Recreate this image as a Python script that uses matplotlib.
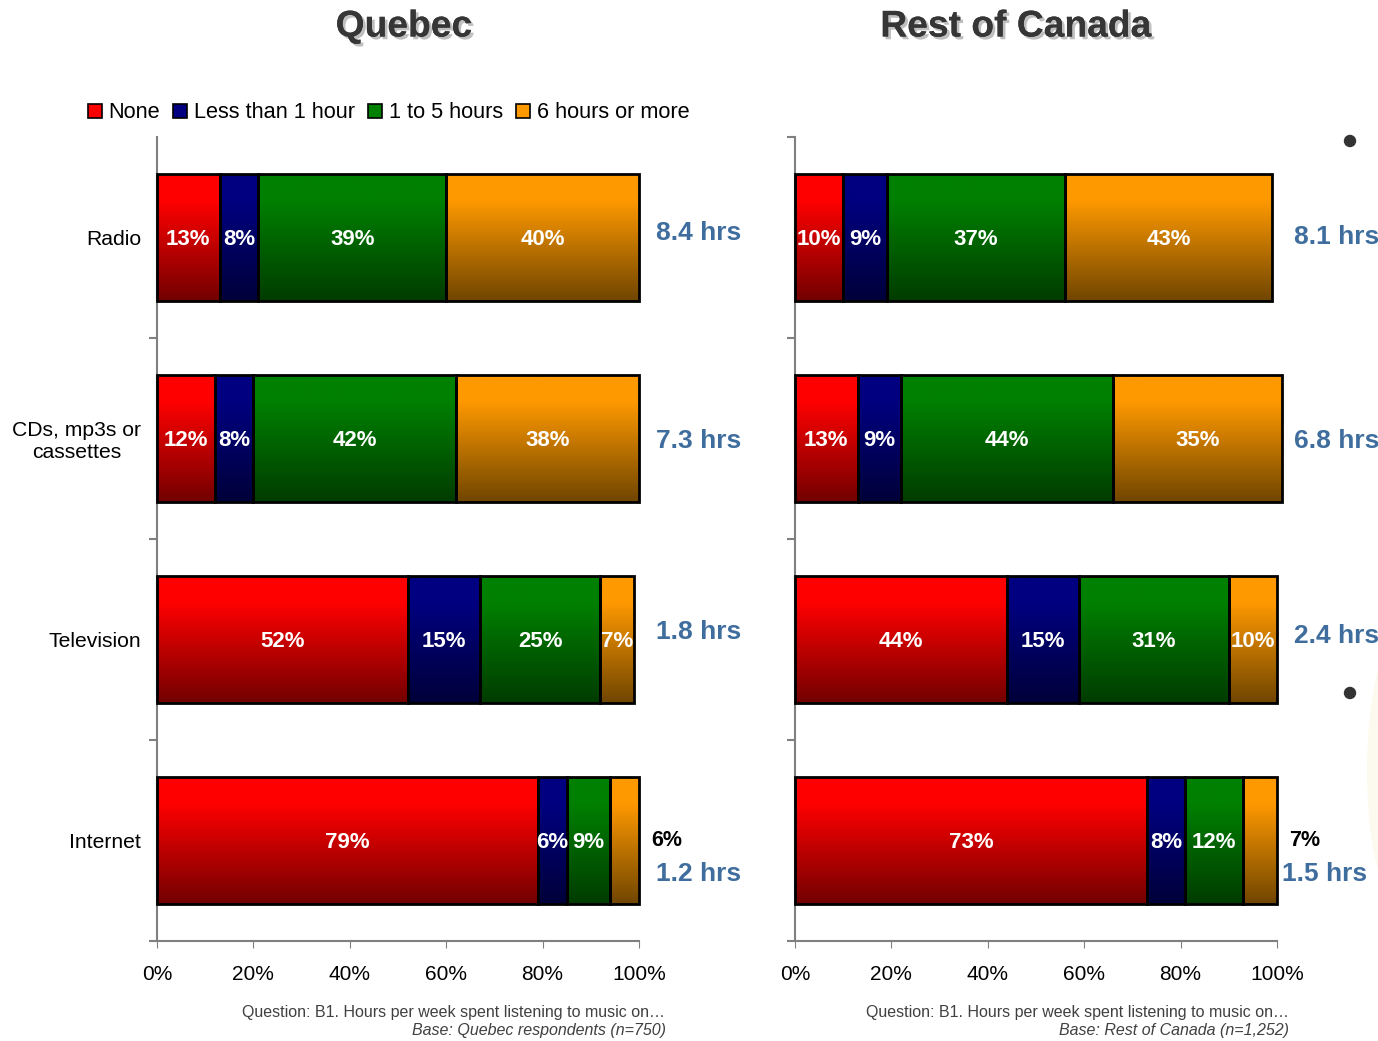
import numpy as np
import matplotlib
matplotlib.use('Agg')
import matplotlib.pyplot as plt
import matplotlib.patheffects as pe
from matplotlib.patches import Rectangle, Ellipse

plt.rcParams['font.family'] = ['Liberation Sans', 'DejaVu Sans']

# media categories, top to bottom
categories = ['Radio', 'CDs, mp3s or\ncassettes', 'Television', 'Internet']
series = ['None', 'Less than 1 hour', '1 to 5 hours', '6 hours or more']

quebec = {
    'None':             [13, 12, 52, 79],
    'Less than 1 hour': [8, 8, 15, 6],
    '1 to 5 hours':     [39, 42, 25, 9],
    '6 hours or more':  [40, 38, 7, 6],
}
rest_of_canada = {
    'None':             [10, 13, 44, 73],
    'Less than 1 hour': [9, 9, 15, 8],
    '1 to 5 hours':     [37, 44, 31, 12],
    '6 hours or more':  [43, 35, 10, 7],
}
quebec_hours = ['8.4 hrs', '7.3 hrs', '1.8 hrs', '1.2 hrs']
roc_hours = ['8.1 hrs', '6.8 hrs', '2.4 hrs', '1.5 hrs']

# top colour / bottom colour of each gradient segment
top_colors = ['#ff0000', '#000080', '#008000', '#ff9900']
bot_colors = ['#730000', '#00003a', '#003c00', '#714600']

HRS_COLOR = '#3f6e9e'


def hex2rgb(h):
    return np.array([int(h[i:i + 2], 16) for i in (1, 3, 5)]) / 255.0


def gradient(top, bot, n=64):
    t = np.linspace(0, 1, n)
    # hold the bright colour for the upper part, then fade down
    t = np.clip((t - 0.2) / 0.8, 0, 1)
    c0, c1 = hex2rgb(top), hex2rgb(bot)
    return (c0[None, :] * (1 - t[:, None]) + c1[None, :] * t[:, None])[:, None, :]


def draw_panel(ax, data, hours, show_labels, last_hrs_x, hrs_y):
    y = np.arange(len(categories))
    left = np.zeros(len(categories))
    for si, s in enumerate(series):
        vals = np.array(data[s], dtype=float)
        bars = ax.barh(y, vals, left=left, height=0.63, color='none',
                       edgecolor='black', linewidth=2, zorder=3, clip_on=False)
        img = gradient(top_colors[si], bot_colors[si])
        for bi, b in enumerate(bars):
            x0, y0 = b.get_x(), b.get_y()
            w, h = b.get_width(), b.get_height()
            im = ax.imshow(img, extent=(x0, x0 + w, y0 + h, y0), aspect='auto',
                           interpolation='bilinear', zorder=2, clip_on=False)
            im.set_clip_path(b)
            # the thin orange slice on the internet row is labelled outside
            if bi == 3 and si == 3:
                ax.text(102.5, y[bi], '%d%%' % vals[bi], ha='left', va='center',
                        fontsize=15.5, fontweight='bold', color='black',
                        clip_on=False)
                continue
            ax.text(x0 + w / 2, y[bi] + 0.01, '%d%%' % vals[bi], ha='center', va='center',
                    fontsize=16, fontweight='bold', color='white', zorder=4)
        left = left + vals

    for i, h in enumerate(hours):
        ax.text(last_hrs_x if i == 3 else 103.5, i + hrs_y[i], h, ha='left', va='center',
                fontsize=19, fontweight='bold', color=HRS_COLOR, clip_on=False)

    ax.set_xlim(0, 100)
    ax.set_ylim(3.5, -0.5)
    ax.set_xticks([0, 20, 40, 60, 80, 100])
    ax.set_xticklabels(['0%', '20%', '40%', '60%', '80%', '100%'], fontsize=15)
    ax.set_yticks(y)
    if show_labels:
        ax.set_yticklabels(categories, fontsize=15.2, multialignment='center')
    else:
        ax.set_yticklabels([])
    ax.tick_params(axis='y', length=0, pad=11.5)
    ax.tick_params(axis='x', length=5, color='#808080', pad=12)
    # boundary ticks between categories on the left spine
    bounds = [0.5, 1.5, 2.5, 3.5] if show_labels else [-0.5, 0.5, 1.5, 2.5, 3.5]
    ax.set_yticks(bounds, minor=True)
    ax.tick_params(axis='y', which='minor', length=6, color='#808080', width=1.5)
    for side in ('top', 'right'):
        ax.spines[side].set_visible(False)
    for side in ('left', 'bottom'):
        ax.spines[side].set_color('#808080')
        ax.spines[side].set_linewidth(1.5)
    ax.set_facecolor('none')


fig = plt.figure(figsize=(13.78, 10.41), dpi=100)
ax1 = fig.add_axes([157 / 1378, 0.0961, 482 / 1378, 0.7723])
ax2 = fig.add_axes([795 / 1378, 0.0961, 482 / 1378, 0.7723])

draw_panel(ax1, quebec, quebec_hours, True, 103.5, [-0.02, 0.015, -0.035, 0.165])
draw_panel(ax2, rest_of_canada, roc_hours, False, 101.0, [0.0, 0.015, -0.015, 0.165])

shadow = [pe.withSimplePatchShadow(offset=(2, -2), shadow_rgbFace='#000000', alpha=0.25),
          pe.Normal()]
fig.text(404 / 1378, 1 - 27 / 1041, 'Quebec', ha='center', va='center', fontsize=26.8,
         fontweight='bold', color='#363636', path_effects=shadow)
fig.text(1016 / 1378, 1 - 27 / 1041, 'Rest of Canada', ha='center', va='center',
         fontsize=26.8, fontweight='bold', color='#363636', path_effects=shadow)

# legend
handles = [Rectangle((0, 0), 1, 1, facecolor=c, edgecolor='black', linewidth=1.2)
           for c in top_colors]
fig.legend(handles, series, loc='center left', bbox_to_anchor=(79 / 1378, 1 - 113 / 1041),
           ncol=4, frameon=False, fontsize=15.7, handlelength=0.65, handleheight=0.65,
           handletextpad=0.3, columnspacing=0.6, borderaxespad=0)

# footnotes
question = 'Question: B1. Hours per week spent listening to music on\u2026'
fig.text(665 / 1378, 1 - 1012 / 1041, question,
         ha='right', va='center', fontsize=11.5, color='#404040')
fig.text(666 / 1378, 1 - 1031 / 1041, 'Base: Quebec respondents (n=750)',
         ha='right', va='center', fontsize=11.5, color='#404040', style='italic')
fig.text(1289 / 1378, 1 - 1012 / 1041, question,
         ha='right', va='center', fontsize=11.5, color='#404040')
fig.text(1289 / 1378, 1 - 1031 / 1041, 'Base: Rest of Canada (n=1,252)',
         ha='right', va='center', fontsize=11.5, color='#404040', style='italic')

# bullet dots at the right margin
for yy in (141, 693):
    fig.add_artist(Ellipse((1350 / 1378, 1 - yy / 1041), 11 / 1378, 11 / 1041,
                           transform=fig.transFigure, color='#333333'))

# faint cream glow at the right edge
fig.add_artist(Ellipse((1392 / 1378, 1 - 770 / 1041), 50 / 1378, 240 / 1041,
                       transform=fig.transFigure, color='#faf4dc', alpha=0.45, lw=0))

fig.savefig('out.png', dpi=100, facecolor='white')
